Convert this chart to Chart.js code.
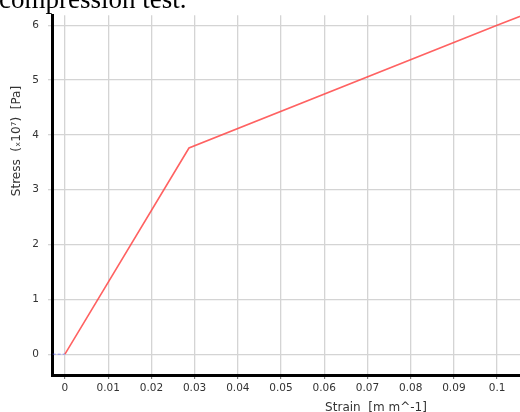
<!DOCTYPE html>
<html>
<head>
<meta charset="utf-8">
<script src="https://cdn.jsdelivr.net/npm/chart.js@4/dist/chart.umd.min.js"></script>
<style>
    html, body { margin: 0; padding: 0; background: #fff; overflow: hidden; }
    #wrap { position: relative; width: 520px; height: 412px; }
</style>
</head>
<body>
<div id="wrap"><canvas id="chart" width="520" height="412"></canvas></div>
<script>
// Data
const strain = [0, 0.0287, 0.1, 0.106];
const stress = [0, 3.76, 6.0, 6.18];
const baseStrain = [-0.004, 0];
const baseStress = [0, 0];
const xTicks = [0, 0.01, 0.02, 0.03, 0.04, 0.05, 0.06, 0.07, 0.08, 0.09, 0.1];
const yTicks = [0, 1, 2, 3, 4, 5, 6];

const tickFont = { family: 'DejaVu Sans', size: 10.5 };

// ── Extra texts: caption and axis titles ────────────────────────────────────
const textPlugin = {
    id: 'texts',
    afterDraw: function (chart) {
        const ctx = chart.ctx;
        ctx.save();
        ctx.fillStyle = '#000';
        ctx.font = '27px "Liberation Serif"';
        ctx.textAlign = 'left';
        ctx.textBaseline = 'alphabetic';
        ctx.fillText('compression test.', -1, 8);

        ctx.fillStyle = '#333';
        ctx.font = '12px "DejaVu Sans"';
        ctx.textAlign = 'center';
        ctx.textBaseline = 'middle';
        ctx.fillText('Strain  [m m^-1]', 376, 408);

        ctx.translate(17, 141);
        ctx.rotate(-Math.PI / 2);
        ctx.fillText('Stress  (\u209310\u2077)  [Pa]', 0, 0);
        ctx.restore();
    },
};

new Chart(document.getElementById('chart'), {
    type: 'scatter',
    data: {
        datasets: [
            {
                data: baseStrain.map(function (x, i) { return { x: x, y: baseStress[i] }; }),
                showLine: true,
                borderColor: 'rgba(90,90,255,0.6)',
                borderDash: [3, 2],
                borderWidth: 1,
                pointRadius: 0,
            },
            {
                data: strain.map(function (x, i) { return { x: x, y: stress[i] }; }),
                showLine: true,
                borderColor: 'rgba(255,70,70,0.85)',
                borderWidth: 1.6,
                pointRadius: 0,
                tension: 0,
            },
        ],
    },
    options: {
        responsive: false,
        animation: false,
        devicePixelRatio: 1,
        layout: { padding: { top: 12, right: 0, left: 0, bottom: 0 } },
        plugins: { legend: { display: false }, tooltip: { enabled: false } },
        scales: {
            x: {
                type: 'linear',
                min: -0.003,
                max: 0.1053,
                afterFit: function (s) { s.height = 37; },
                afterBuildTicks: function (s) {
                    s.ticks = xTicks.map(function (v) { return { value: v }; });
                },
                ticks: {
                    font: tickFont,
                    color: '#333',
                    padding: 3,
                    maxRotation: 0,
                    callback: function (v) { return String(+v.toFixed(2)); },
                },
                grid: {
                    color: '#d4d4d4',
                    lineWidth: 1.3,
                    tickLength: 4,
                    tickColor: '#666',
                    tickWidth: 1,
                },
                border: { color: '#000', width: 3 },
            },
            y: {
                type: 'linear',
                min: -0.38,
                max: 6.18,
                afterFit: function (s) { s.width = 52; },
                afterBuildTicks: function (s) {
                    s.ticks = yTicks.map(function (v) { return { value: v }; });
                },
                ticks: {
                    font: tickFont,
                    color: '#333',
                    padding: 9,
                },
                grid: { color: '#d4d4d4', lineWidth: 1.3, tickLength: 4 },
                border: { color: '#000', width: 3 },
            },
        },
    },
    plugins: [textPlugin],
});
</script>
</body>
</html>
